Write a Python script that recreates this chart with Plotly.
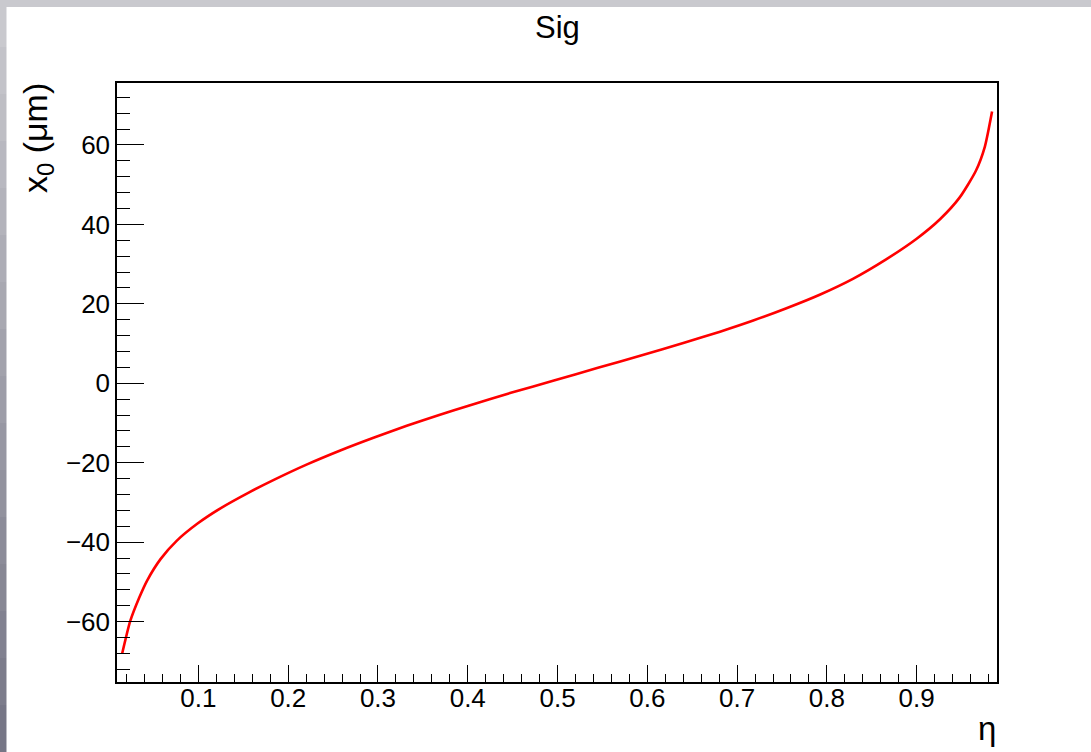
import plotly.graph_objects as go

# Data
eta = [0.015, 0.024, 0.034, 0.043, 0.058, 0.076, 0.099, 0.125, 0.156, 0.184,
       0.221, 0.258, 0.295, 0.332, 0.369, 0.400, 0.448, 0.496, 0.545, 0.593,
       0.641, 0.681, 0.718, 0.755, 0.792, 0.829, 0.866, 0.900, 0.926, 0.948,
       0.966, 0.976, 0.984]
x0_um = [-68.1, -59.9, -54.0, -49.6, -44.2, -39.6, -35.3, -31.4, -27.5, -24.3,
         -20.4, -16.9, -13.7, -10.7, -7.9, -5.7, -2.4, 0.7, 3.9, 7.0,
         10.2, 13.0, 15.8, 18.9, 22.3, 26.3, 31.2, 36.4, 41.3, 46.8,
         53.5, 59.6, 68.4]

x_ticks = [0.1, 0.2, 0.3, 0.4, 0.5, 0.6, 0.7, 0.8, 0.9]
y_ticks = [-60, -40, -20, 0, 20, 40, 60]
x_range = [0.0093, 0.9895]
y_range = [-75.2, 75.6]

title_text = "Sig"
x_title = "η"
y_title = "x<sub>0</sub> (μm)"

W, H = 1091, 752
L, R, T, B = 117, 94, 83, 70
PW, PH = W - L - R, H - T - B


def px(xp):
    return (xp - L) / PW


def py(yp):
    return (H - B - yp) / PH


FONT = "Liberation Sans, Arial, Helvetica, sans-serif"

fig = go.Figure()
fig.add_trace(go.Scatter(x=eta, y=x0_um, mode="lines",
                         line=dict(color="#ff0000", width=2.6, shape="spline", smoothing=0.6),
                         showlegend=False, hoverinfo="skip"))

shapes = []
# top grey strip
shapes.append(dict(type="rect", xref="paper", yref="paper", layer="below",
                   x0=px(0), x1=px(W), y0=py(7), y1=py(0),
                   line=dict(width=0), fillcolor="#c9c9ce"))
# left grey strip with gradient
n = 16
c0 = (201, 201, 206)
c1 = (118, 118, 134)
for i in range(n):
    f = i / (n - 1)
    col = "rgb(%d,%d,%d)" % tuple(int(round(a + (b - a) * f)) for a, b in zip(c0, c1))
    shapes.append(dict(type="rect", xref="paper", yref="paper", layer="below",
                       x0=px(0), x1=px(6.5), y0=py(H * (i + 1) / n), y1=py(H * i / n),
                       line=dict(width=0), fillcolor=col))

annotations = [
    dict(text=title_text, xref="paper", yref="paper", x=0.5, y=py(28),
         xanchor="center", yanchor="middle", showarrow=False,
         font=dict(family=FONT, size=31, color="black")),
    dict(text=x_title, xref="paper", yref="paper", x=px(998), y=py(728),
         xanchor="right", yanchor="middle", showarrow=False,
         font=dict(family=FONT, size=33, color="black")),
    dict(text=y_title, xref="paper", yref="paper", x=px(37), y=py(81),
         xanchor="center", yanchor="top", showarrow=False, textangle=-90,
         font=dict(family=FONT, size=34, color="black")),
]

fig.update_layout(
    width=W, height=H,
    margin=dict(l=L, r=R, t=T, b=B, pad=0),
    paper_bgcolor="white", plot_bgcolor="white",
    shapes=shapes, annotations=annotations,
    font=dict(family=FONT, size=26, color="black"),
)
fig.update_xaxes(range=x_range, tickvals=x_ticks, ticktext=[str(v) for v in x_ticks],
                 ticks="inside", ticklen=17, tickwidth=1.3, tickcolor="black",
                 showline=True, linecolor="black", linewidth=1.5, mirror=True,
                 showgrid=False, zeroline=False, ticklabelstandoff=-8,
                 minor=dict(ticks="inside", ticklen=8, tickwidth=1.2, tickcolor="black",
                            dtick=0.02, tick0=0, showgrid=False),
                 tickfont=dict(family=FONT, size=26, color="black"))
fig.update_yaxes(range=y_range, tickvals=y_ticks,
                 ticks="inside", ticklen=27, tickwidth=1.3, tickcolor="black",
                 showline=True, linecolor="black", linewidth=1.5, mirror=True,
                 showgrid=False, zeroline=False,
                 minor=dict(ticks="inside", ticklen=13, tickwidth=1.2, tickcolor="black",
                            dtick=4, tick0=0, showgrid=False),
                 tickfont=dict(family=FONT, size=26, color="black"))

fig.write_html("out.html", config={"displayModeBar": False},
               post_script="document.body.style.margin='0px';document.body.style.padding='0px';")
